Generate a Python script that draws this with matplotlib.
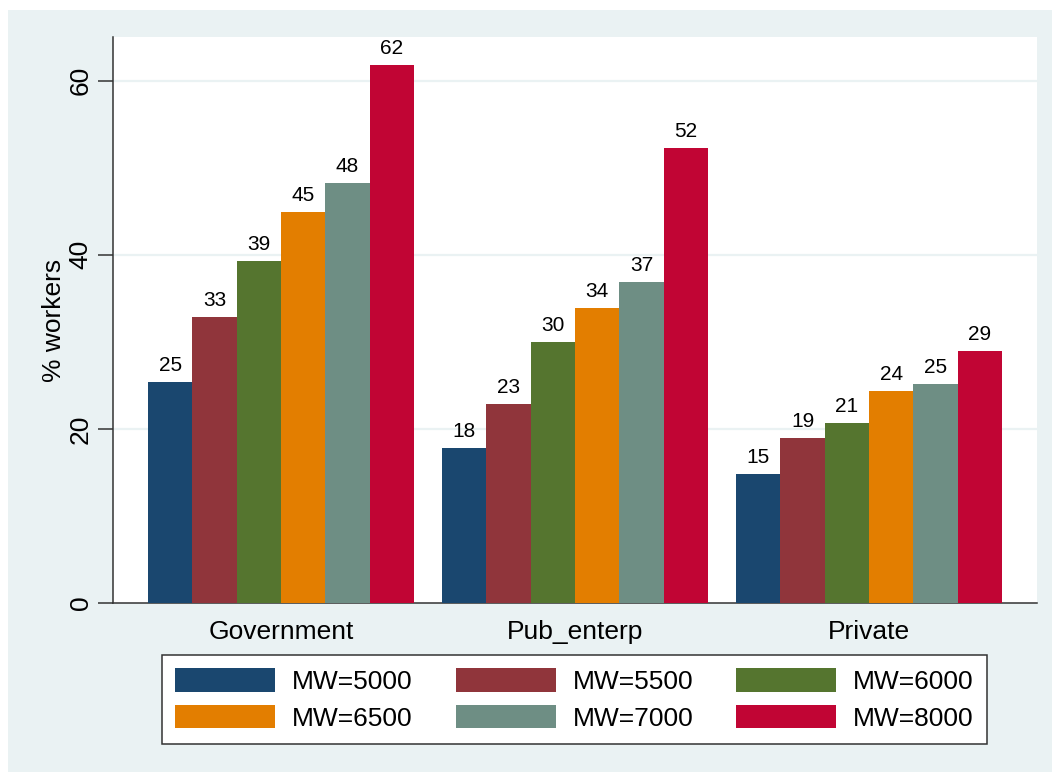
import matplotlib
matplotlib.use("Agg")
import matplotlib.pyplot as plt
from matplotlib.patches import Rectangle
import numpy as np

plt.rcParams['font.family'] = ['Liberation Sans', 'DejaVu Sans']

# Share of workers affected, by sector and minimum-wage scenario
sectors = ["Government", "Pub_enterp", "Private"]
scenarios = ["MW=5000", "MW=5500", "MW=6000", "MW=6500", "MW=7000", "MW=8000"]
mw5000 = [25.4, 17.8, 14.8]
mw5500 = [32.8, 22.9, 19.0]
mw6000 = [39.3, 30.0, 20.7]
mw6500 = [44.9, 33.9, 24.4]
mw7000 = [48.2, 36.9, 25.1]
mw8000 = [61.8, 52.3, 28.9]
series = [mw5000, mw5500, mw6000, mw6500, mw7000, mw8000]
colors = ["#1A476F", "#90353B", "#55752F", "#E37E00", "#6E8E84", "#C10534"]
yticks = [0, 20, 40, 60]

W, H = 1052, 772
fig = plt.figure(figsize=(W / 100, H / 100), dpi=100)
fig.patch.set_facecolor("white")
bg = Rectangle((8 / W, 0), 1 - 8 / W, 1 - 10 / H,
               transform=fig.transFigure, facecolor="#EAF2F3",
               edgecolor="none", zorder=-10)
fig.patches.append(bg)

ax = fig.add_axes([113 / W, (H - 603) / H, 924 / W, (603 - 37) / H])
ax.set_facecolor("white")

x = np.arange(len(sectors))
bw = 0.1507
n = len(series)
handles = []
for i, (vals, c, lab) in enumerate(zip(series, colors, scenarios)):
    pos = x + (i - (n - 1) / 2) * bw
    bars = ax.bar(pos, vals, width=bw, color=c, label=lab, zorder=3,
                  edgecolor="none")
    handles.append(bars)
    for xb, v in zip(pos, vals):
        ax.text(xb, v + 1.26, f"{v:.0f}", ha="center", va="baseline",
                fontsize=15, color="black", zorder=4)

ax.set_xlim(-0.571, 2.571)
ax.set_ylim(0, 65)
ax.set_yticks(yticks)
ax.set_yticklabels([str(t) for t in yticks], rotation=90, va="center",
                   fontsize=19)
ax.set_xticks(x)
ax.set_xticklabels(sectors, fontsize=19)
ax.tick_params(axis="x", length=0, pad=12)
ax.tick_params(axis="y", length=11, width=1.1, color="#333333", pad=3.5)

for t in yticks[1:]:
    ax.axhline(t, color="#EAF2F3", lw=1.6, zorder=1)

for side in ["top", "right"]:
    ax.spines[side].set_visible(False)
for side in ["left", "bottom"]:
    ax.spines[side].set_color("#333333")
    ax.spines[side].set_linewidth(1.1)

ax.set_ylabel("% workers", fontsize=19)
ax.yaxis.set_label_coords(-47 / 924, 0.5)

# legend filled row by row, three entries per row
order = [0, 3, 1, 4, 2, 5]
leg = fig.legend([handles[k] for k in order], [scenarios[k] for k in order],
                 ncol=3, loc="center", bbox_to_anchor=(574.5 / W, 1 - 699.5 / H),
                 fontsize=19, handlelength=3.79, handleheight=1.02,
                 handletextpad=0.64, columnspacing=1.63, labelspacing=0.38,
                 frameon=True, fancybox=False, borderpad=0.5,
                 edgecolor="#333333", facecolor="white", framealpha=1)
leg.get_frame().set_linewidth(1.1)

fig.savefig("out.png", dpi=100)
